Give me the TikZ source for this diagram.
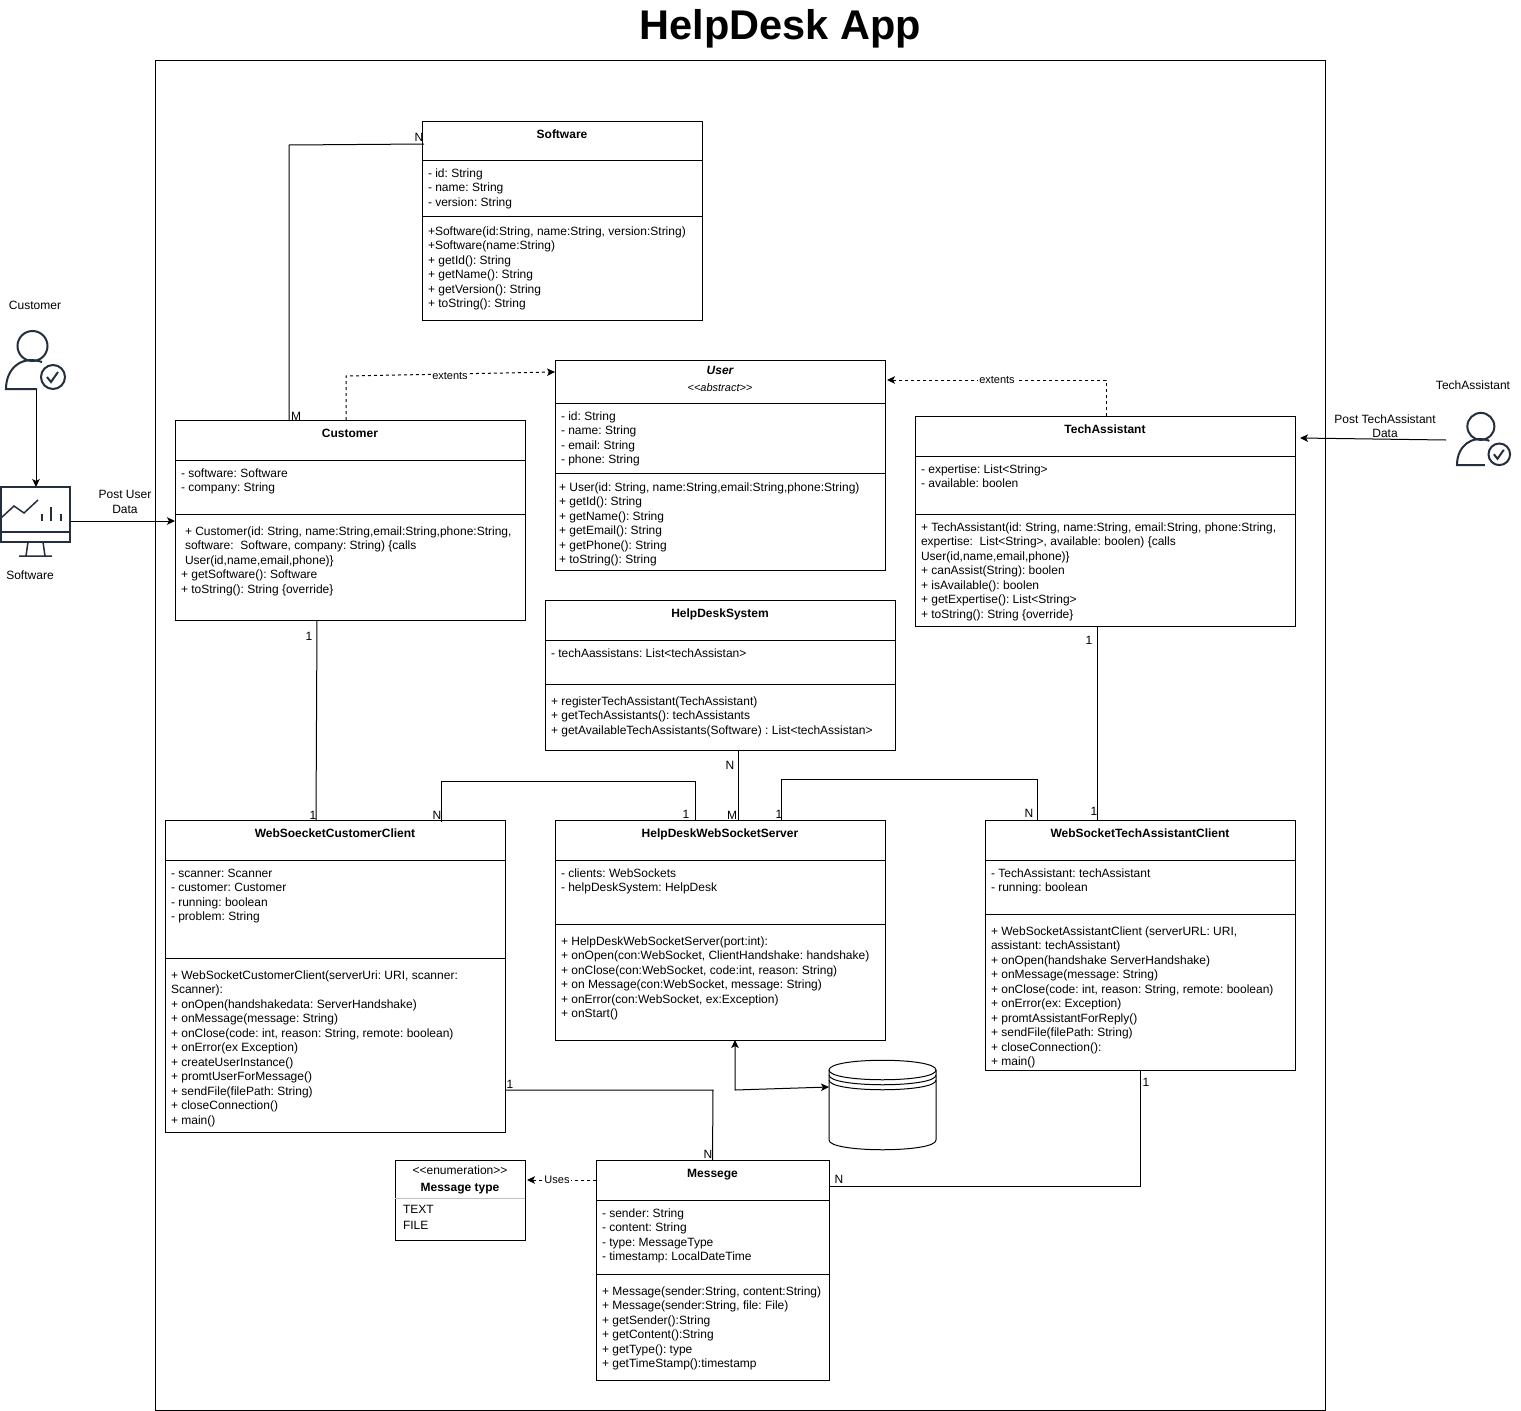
\documentclass[tikz,border=0pt]{standalone}
\usepackage{fontspec}
\setmainfont{Liberation Sans}
\usetikzlibrary{arrows.meta,calc}
\definecolor{iconink}{HTML}{232F3E}
\frenchspacing
\tikzset{
  box/.style={draw=black,line width=1pt,fill=white,anchor=north west,inner sep=0pt,outer sep=0pt},
  txt/.style={anchor=north west,inner sep=0pt,outer sep=0pt,align=left,font=\fontsize{12}{14.5}\selectfont},
  ttl/.style={anchor=base,inner sep=0pt,font=\fontsize{12}{14.5}\selectfont\bfseries},
  lab/.style={anchor=center,inner sep=0pt,align=center,font=\fontsize{12}{14.5}\selectfont},
  mult/.style={anchor=center,inner sep=0pt,font=\fontsize{12}{14.5}\selectfont},
  edgelab/.style={anchor=center,inner sep=1pt,fill=white,font=\fontsize{11}{13}\selectfont},
  link/.style={draw=black,line width=1pt},
  tip/.style={-{Stealth[length=8pt,width=7.5pt,inset=2pt]}},
  dep/.style={link,dashed,dash pattern=on 3pt off 3pt,tip},
  sep/.style={draw=black,line width=1pt},
  ink/.style={draw=iconink,line width=2pt},
}
\newcommand{\firstline}{\rule{0pt}{9pt}}
% #1 name, #2 x, #3 y, #4 w, #5 h, #6 first divider offset, #7 second divider offset, #8 title
\newcommand{\umlbox}[8]{%
  \node[box,minimum width=#4pt,minimum height=#5pt] (#1) at (#2,#3) {};
  \draw[sep] ($(#1.north west)+(0,#6)$) -- ($(#1.north east)+(0,#6)$);
  \draw[sep] ($(#1.north west)+(0,#7)$) -- ($(#1.north east)+(0,#7)$);
  \node[ttl] (#1title) at ($(#1.north)+(0,17)$) {#8};
}
% #1 name, #2 x, #3 centre y of first line, #4 lines
\newcommand{\lines}[4]{\node[txt] (#1) at (#2,#3-5) {\firstline #4};}
\newcommand{\personicon}{%
  \draw[ink] (32.5,346) circle (15);
  \draw[ink] (42,362) .. controls (22,355) and (6,368) .. (6,389) -- (37,389);
  \draw[ink] (53,377) circle (12);
  \draw[ink] (47,377) -- (51,382) -- (58,372);
}
\begin{document}
\begin{tikzpicture}[x=1pt,y=-1pt]
\useasboundingbox (0,0) rectangle (1521,1411);
\fill[white] (0,0) rectangle (1521,1411);
\node[anchor=center,inner sep=0pt,font=\fontsize{41.5}{48}\selectfont\bfseries] (title) at (780.5,29) {HelpDesk App};
\node[box,minimum width=1170pt,minimum height=1350pt] (frame) at (155,60) {};

% classes
\umlbox{software}{422}{121}{280}{199}{39}{95}{Software}
\lines{softwareA}{428}{173}{- id: String\\- name: String\\- version: String}
\lines{softwareM}{428}{231}{+Software(id:String, name:String, version:String)\\+Software(name:String)\\+ getId(): String\\+ getName(): String\\+ getVersion(): String\\+ toString(): String}

\umlbox{user}{555}{360}{330}{210}{43}{113}{}
\node[ttl,font=\fontsize{12}{14.5}\selectfont\bfseries\itshape] (usertitleb) at (720,374) {User};
\node[lab,font=\fontsize{11}{13}\selectfont\itshape] (userstereo) at (720,388) {<{}<abstract>{}>};
\lines{userA}{561}{416}{- id: String\\- name: String\\- email: String\\- phone: String}
\lines{userM}{559}{487}{+ User(id: String, name:String,email:String,phone:String)\\+ getId(): String\\+ getName(): String\\+ getEmail(): String\\+ getPhone(): String\\+ toString(): String}

\umlbox{customer}{175}{420}{350}{200}{40}{94}{Customer}
\lines{customerA}{181}{473}{- software: Software\\- company: String}
\lines{customerM}{181}{531}{\hspace*{4pt}+ Customer(id: String, name:String,email:String,phone:String,\\\hspace*{4pt}software:\ \ Software, company: String) \{calls\\\hspace*{4pt}User(id,name,email,phone)\}\\+ getSoftware(): Software\\+ toString(): String \{override\}}

\umlbox{tech}{915}{416}{380}{210}{40}{98}{TechAssistant}
\lines{techA}{921}{469}{- expertise: List<String>\\- available: boolen}
\lines{techM}{921}{527}{+ TechAssistant(id: String, name:String, email:String, phone:String,\\expertise:\ \ List<String>, available: boolen) \{calls\\User(id,name,email,phone)\}\\+ canAssist(String): boolen\\+ isAvailable(): boolen\\+ getExpertise(): List<String>\\+ toString(): String \{override\}}

\umlbox{system}{545}{600}{350}{150}{40}{84}{HelpDeskSystem}
\lines{systemA}{551}{653}{- techAassistans: List<techAssistan>}
\lines{systemM}{551}{701}{+ registerTechAssistant(TechAssistant)\\+ getTechAssistants(): techAssistants\\+ getAvailableTechAssistants(Software) : List<techAssistan>}

\umlbox{cclient}{165}{820}{340}{312}{40}{138}{WebSoecketCustomerClient}
\lines{cclientA}{171}{873}{- scanner: Scanner\\- customer: Customer\\- running: boolean\\- problem: String}
\lines{cclientM}{171}{975}{+ WebSocketCustomerClient(serverUri: URI, scanner:\\Scanner):\\+ onOpen(handshakedata: ServerHandshake)\\+ onMessage(message: String)\\+ onClose(code: int, reason: String, remote: boolean)\\+ onError(ex Exception)\\+ createUserInstance()\\+ promtUserForMessage()\\+ sendFile(filePath: String)\\+ closeConnection()\\+ main()}

\umlbox{server}{555}{820}{330}{220}{40}{104}{HelpDeskWebSocketServer}
\lines{serverA}{561}{873}{- clients: WebSockets\\- helpDeskSystem: HelpDesk}
\lines{serverM}{561}{941}{+ HelpDeskWebSocketServer(port:int):\\+ onOpen(con:WebSocket, ClientHandshake: handshake)\\+ onClose(con:WebSocket, code:int, reason: String)\\+ on Message(con:WebSocket, message: String)\\+ onError(con:WebSocket, ex:Exception)\\+ onStart()}

\umlbox{tclient}{985}{820}{310}{250}{40}{94}{WebSocketTechAssistantClient}
\lines{tclientA}{991}{873}{- TechAssistant: techAssistant\\- running: boolean}
\lines{tclientM}{991}{931}{+ WebSocketAssistantClient (serverURL: URI,\\assistant: techAssistant)\\+ onOpen(handshake ServerHandshake)\\+ onMessage(message: String)\\+ onClose(code: int, reason: String, remote: boolean)\\+ onError(ex: Exception)\\+ promtAssistantForReply()\\+ sendFile(filePath: String)\\+ closeConnection():\\+ main()}

\umlbox{message}{596}{1160}{233}{220}{40}{114}{Messege}
\lines{messageA}{602}{1213}{- sender: String\\- content: String\\- type: MessageType\\- timestamp: LocalDateTime}
\lines{messageM}{602}{1291}{+ Message(sender:String, content:String)\\+ Message(sender:String, file: File)\\+ getSender():String\\+ getContent():String\\+ getType(): type\\+ getTimeStamp():timestamp}

% enumeration
\node[box,minimum width=130pt,minimum height=80pt] (enum) at (395,1160) {};
\draw[draw=black!25,line width=1pt] ($(enum.north west)+(0,38)$) -- ($(enum.north east)+(0,38)$);
\node[lab] (enumstereo) at (460,1170) {<{}<enumeration>{}>};
\node[ttl] (enumtitle) at (460,1191) {Message type};
\node[txt,font=\fontsize{12}{16}\selectfont] (enumvals) at (403,1204) {\firstline TEXT\\FILE};

% database
\coordinate (dbW) at (829,1070);
\coordinate (dbE) at (936,1070);
\draw[line width=1pt,fill=white] (829,1070) .. controls (829,1057) and (936,1057) .. (936,1070) -- (936,1140) .. controls (936,1153) and (829,1153) .. (829,1140) -- cycle;
\draw[line width=1pt] (829,1070) .. controls (829,1083) and (936,1083) .. (936,1070);
\draw[line width=1pt] (829,1075) .. controls (829,1088) and (936,1088) .. (936,1075);
\draw[line width=1pt] (829,1080) .. controls (829,1093) and (936,1093) .. (936,1080);
\coordinate (dbport) at (829,1087);

% actors
\node[lab] (custlabel) at (35,305) {Customer};
\begin{scope}\personicon\end{scope}
\coordinate (custfoot) at (36,390);
\draw[ink,fill=white] (1,487) rectangle (70,542);
\draw[ink] (1,532) -- (70,532);
\draw[ink,line width=1.5pt] (1,518) -- (14,506) -- (24,513) -- (38,500);
\draw[ink,line width=1.5pt] (42,514) -- (42,521) (51,507) -- (51,521) (61,514) -- (61,521);
\draw[ink,line width=1.5pt] (28,542) -- (26,556) (43,542) -- (45,556) (19,556) -- (52,556);
\node[inner sep=0pt,minimum width=70pt,minimum height=55pt,anchor=north west] (monitor) at (1,487) {};
\node[lab] (softlabel) at (30,575) {Software};
\node[lab] (techlabel) at (1473,385) {TechAssistant};
\begin{scope}[shift={(1451.6,115)},scale=0.9]\personicon\end{scope}
\coordinate (techhand) at (1446,440);

% connectors
\draw[link,tip] (custfoot) -- (monitor.north -| custfoot);
\draw[link,tip] (monitor.east |- 0,521) -- (customer.west |- 0,521);
\node[lab] (postuser) at (125,502) {Post User\\Data};
\draw[link,tip] (techhand) -- ($(tech.north east)+(5,22)$);
\node[lab] (posttech) at (1385,426) {Post TechAssistant\\Data};

\draw[link] ($(customer.north west)+(114,1)$) -- (289,145) -- ($(software.north west)+(2,23)$);
\node[mult] (m1) at (419,137) {N};
\node[mult] (m2) at (296,416) {M};
\draw[dep] ($(customer.north west)+(171,0)$) -- (346,376) -- ($(user.north west)+(0,12)$);
\node[edgelab] (ext1) at (450,376) {extents};
\draw[dep] ($(tech.north west)+(191,0)$) -- (1106,380) -- ($(user.north east)+(2,20)$);
\node[edgelab] (ext2) at (997,380) {extents};

\draw[link] ($(customer.south west)+(142,0)$) -- ($(cclient.north west)+(151,0)$);
\node[mult] (m3) at (309,636) {1};
\node[mult] (m4) at (313,815) {1};
\draw[link] ($(cclient.north west)+(276,2)$) -- (441,781) -- (695,781) -- ($(server.north west)+(140,0)$);
\node[mult] (m5) at (437,815) {N};
\node[mult] (m6) at (686,814) {1};
\draw[link] ($(system.south west)+(193,0)$) -- ($(server.north west)+(183,0)$);
\node[mult] (m7) at (730,765) {N};
\node[mult] (m8) at (732,815) {M};
\draw[link] ($(server.north west)+(226,0)$) -- (781,779) -- (1037,779) -- ($(tclient.north west)+(52,0)$);
\node[mult] (m9) at (779,814) {1};
\node[mult] (m10) at (1029,813) {N};
\draw[link] ($(tech.south west)+(182,0)$) -- ($(tclient.north west)+(112,0)$);
\node[mult] (m11) at (1089,640) {1};
\node[mult] (m12) at (1094,811) {1};
\draw[link] ($(cclient.north east)+(0,270)$) -- (713,1090) -- (message.north);
\node[mult] (m13) at (510,1084) {1};
\node[mult] (m14) at (708,1154) {N};
\draw[link] ($(tclient.south west)+(155,0)$) -- (1140,1186) -- ($(message.north east)+(1,26)$);
\node[mult] (m15) at (1146,1082) {1};
\node[mult] (m16) at (839,1179) {N};
\draw[link,{Stealth[length=8pt,width=7.5pt,inset=2pt]}-{Stealth[length=8pt,width=7.5pt,inset=2pt]}] ($(server.south west)+(180,0)$) -- (735,1090) -- (dbport);
\draw[dep] ($(message.north west)+(0,20)$) -- ($(enum.north east)+(2,20)$);
\node[edgelab] (uses) at (557,1180) {Uses};
\end{tikzpicture}
\end{document}
